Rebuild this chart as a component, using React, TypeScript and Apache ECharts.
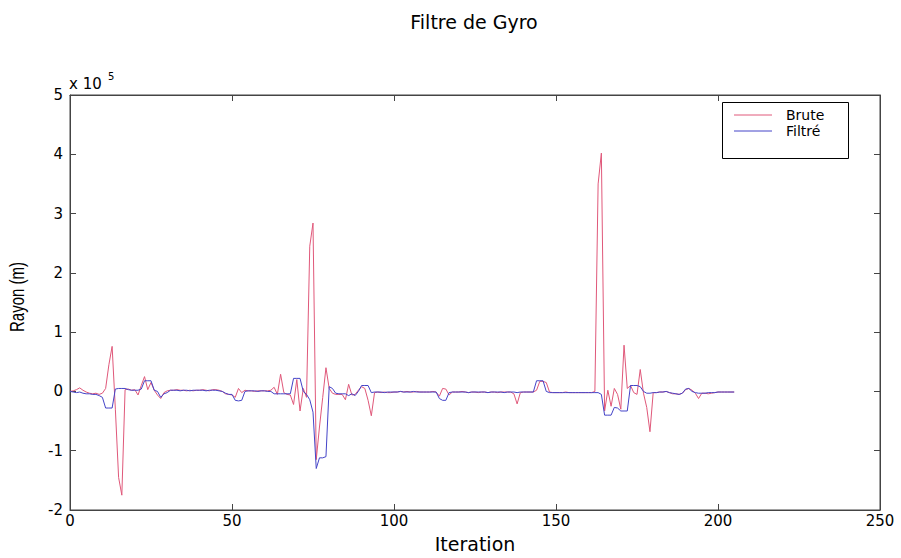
import React, { useEffect, useRef } from "react";
import * as echarts from "echarts";

// Axis ticks (y values are in units of 10^5 m, as the "x 10^5" factor shows)
const xTicks = [0, 50, 100, 150, 200, 250];
const yTicks = [-2, -1, 0, 1, 2, 3, 4, 5];
const seriesNames = ["Brute", "Filtré"];

// Raw radius ("Brute"), one value per iteration 0..205, x 10^5 m
const brute = [
  0, 0.01, 0.03, 0.06, 0.02, -0.01, -0.03, -0.04, -0.03, -0.05,
  -0.03, 0.05, 0.45, 0.76, -0.3, -1.45, -1.75, 0.03, 0.04, 0.02,
  0.03, -0.06, 0.1, 0.25, 0.03, 0.15, 0.02, -0.06, -0.12, -0.02,
  0.01, 0.02, 0.02, 0.03, 0.02, 0.02, 0.01, 0.02, 0.01, 0.02,
  0.02, 0.03, 0.02, 0.01, 0.03, 0.03, 0.02, 0.0, -0.04, -0.05,
  -0.06, -0.1, 0.05, -0.02, 0.02, 0.01, 0.01, 0.0, 0.01, 0.01,
  0.01, 0.01, 0.02, 0.07, -0.05, 0.29, -0.02, -0.05, -0.06, -0.22,
  0.2, -0.33, 0.05, -0.1, 2.45, 2.84, -1.15, -0.6, -0.1, 0.4,
  0.05, -0.03, -0.05, -0.05, -0.05, -0.14, 0.12, -0.06, -0.05, 0.02,
  0.08, 0.05, -0.15, -0.41, -0.02, -0.01, -0.02, -0.01, -0.02, -0.02,
  -0.01, -0.01, 0.0, -0.01, 0.0, -0.01, -0.01, 0.0, -0.01, -0.01,
  -0.01, -0.01, 0.0, -0.01, -0.08, 0.05, 0.04, -0.06, -0.01, -0.01,
  -0.01, 0.0, -0.01, -0.02, -0.01, -0.01, -0.02, -0.01, -0.01, -0.02,
  -0.01, -0.01, -0.02, -0.01, -0.01, -0.01, -0.01, -0.04, -0.21, -0.02,
  -0.01, -0.01, -0.01, -0.01, 0.02, 0.17, 0.17, 0.15, -0.01, -0.02,
  -0.02, -0.02, -0.02, -0.01, -0.02, -0.02, -0.02, -0.02, -0.02, -0.02,
  -0.02, -0.02, 0.0, 3.5, 4.02, -0.33, 0.02, -0.25, 0.05, -0.05,
  -0.3, 0.78, 0.05, 0.1, -0.02, -0.05, 0.37, -0.03, -0.27, -0.68,
  -0.02, -0.02, -0.01, -0.01, 0.0, -0.02, -0.04, -0.04, -0.05, -0.03,
  0.03, 0.05, 0.02, -0.03, -0.12, -0.03, -0.03, -0.04, -0.03, -0.02,
  -0.01, -0.01, -0.01, -0.01, -0.01, -0.01,
];

// Filtered radius ("Filtré"), one value per iteration 0..205, x 10^5 m
const filtre = [
  0, -0.01, -0.02, -0.01, -0.03, -0.04, -0.04, -0.05, -0.05, -0.07,
  -0.1, -0.28, -0.28, -0.28, 0.04, 0.05, 0.05, 0.05, 0.03, 0.02,
  0.02, 0.02, 0.04, 0.18, 0.18, 0.18, 0.02, 0.0, -0.1, -0.04,
  -0.02, 0.02, 0.02, 0.02, 0.01, 0.02, 0.02, 0.01, 0.02, 0.02,
  0.02, 0.02, 0.01, 0.02, 0.02, 0.02, 0.01, 0.0, -0.03, -0.05,
  -0.05, -0.15, -0.16, -0.15, 0.0, 0.01, 0.01, 0.01, 0.0, 0.01,
  0.01, 0.0, 0.0, -0.04, -0.04, -0.04, -0.04, -0.04, -0.04, 0.22,
  0.22, 0.22, 0.0, -0.05, -0.14, -0.35, -1.3, -1.12, -1.12, -1.1,
  0.08, 0.05, -0.03, -0.04, -0.04, -0.04, -0.07, -0.04, -0.07, 0.0,
  0.1, 0.1, 0.1, -0.02, -0.01, -0.01, -0.01, -0.02, -0.01, -0.01,
  -0.01, -0.01, 0.0, -0.01, -0.01, -0.01, 0.0, -0.01, -0.01, -0.01,
  -0.01, -0.01, -0.01, -0.01, -0.12, -0.15, -0.15, -0.02, -0.01, -0.01,
  -0.01, -0.01, -0.01, -0.02, -0.01, -0.01, -0.01, -0.01, -0.01, -0.02,
  -0.01, -0.01, -0.01, -0.01, -0.02, -0.01, -0.01, -0.01, -0.02, -0.01,
  -0.01, -0.01, -0.01, -0.01, 0.18, 0.18, 0.18, 0.0, -0.02, -0.02,
  -0.02, -0.02, -0.02, -0.02, -0.02, -0.02, -0.02, -0.02, -0.02, -0.02,
  -0.02, -0.02, -0.02, -0.02, -0.05, -0.4, -0.4, -0.4, -0.27, -0.28,
  -0.33, -0.33, -0.33, 0.1, 0.1, 0.1, 0.08, 0.0, -0.03, -0.03,
  -0.02, -0.02, -0.01, -0.01, 0.0, -0.02, -0.03, -0.04, -0.05, -0.03,
  0.04, 0.05, 0.0, -0.02, -0.03, -0.03, -0.03, -0.02, -0.02, -0.02,
  -0.01, -0.01, -0.01, -0.01, -0.01, -0.01,
];

const iterations = brute.map((_, i) => i);

const RED = "#e0587a";
const BLUE = "#4444c8";
const AXIS = "#444";
const FONT = "DejaVu Sans";

export default function App() {
  const ref = useRef<HTMLDivElement>(null);

  useEffect(() => {
    if (!ref.current) return;
    const chart = echarts.init(ref.current, null, { renderer: "svg" });

    const axisLine = { show: true, onZero: false, lineStyle: { color: AXIS, width: 1 } };
    const axisTick = { show: true, inside: true, length: 6, lineStyle: { color: AXIS, width: 1 } };
    const labelStyle = { fontFamily: FONT, fontSize: 15, color: "#000" };

    const xBase = {
      type: "value",
      min: xTicks[0],
      max: xTicks[xTicks.length - 1],
      interval: xTicks[1] - xTicks[0],
      splitLine: { show: false },
      axisLine,
      axisTick,
    };
    const yBase = {
      type: "value",
      min: yTicks[0],
      max: yTicks[yTicks.length - 1],
      interval: yTicks[1] - yTicks[0],
      splitLine: { show: false },
      axisLine,
      axisTick,
    };

    chart.setOption({
      animation: false,
      backgroundColor: "#ffffff",
      grid: {
        left: 70,
        right: 21,
        top: 95,
        bottom: 45,
        show: true,
        borderColor: AXIS,
        borderWidth: 1,
        backgroundColor: "transparent",
      },
      xAxis: [
        {
          ...xBase,
          position: "bottom",
          name: "Iteration",
          nameLocation: "middle",
          nameGap: 24,
          nameTextStyle: { fontFamily: FONT, fontSize: 19, color: "#000" },
          axisLabel: { ...labelStyle, margin: 3 },
        },
        {
          ...xBase,
          position: "top",
          axisLabel: { show: false },
        },
      ],
      yAxis: [
        {
          ...yBase,
          position: "left",
          axisLabel: { ...labelStyle, margin: 7 },
        },
        {
          ...yBase,
          position: "right",
          axisLabel: { show: false },
        },
      ],
      series: [
        {
          type: "line",
          name: seriesNames[0],
          data: iterations.map((it, i) => [it, brute[i]]),
          showSymbol: false,
          symbol: "none",
          lineStyle: { color: RED, width: 1 },
          itemStyle: { color: RED },
          z: 2,
        },
        {
          type: "line",
          name: seriesNames[1],
          data: iterations.map((it, i) => [it, filtre[i]]),
          showSymbol: false,
          symbol: "none",
          lineStyle: { color: BLUE, width: 1 },
          itemStyle: { color: BLUE },
          z: 3,
        },
      ],
      graphic: [
        {
          type: "text",
          x: 474,
          y: 22,
          style: {
            text: "Filtre de Gyro",
            align: "center",
            verticalAlign: "middle",
            fontFamily: FONT,
            fontSize: 19,
            fill: "#000",
          },
        },
        {
          type: "text",
          x: 17.5,
          y: 297,
          rotation: Math.PI / 2,
          scaleY: 1.35,
          style: {
            text: "Rayon (m)",
            align: "center",
            verticalAlign: "middle",
            fontFamily: "Liberation Sans",
            fontSize: 15,
            fill: "#000",
          },
        },
        {
          type: "text",
          x: 69,
          y: 84,
          style: {
            text: "x 10",
            align: "left",
            verticalAlign: "middle",
            fontFamily: FONT,
            fontSize: 15,
            fill: "#000",
          },
        },
        {
          type: "text",
          x: 108,
          y: 76,
          style: {
            text: "5",
            align: "left",
            verticalAlign: "middle",
            fontFamily: FONT,
            fontSize: 10,
            fill: "#000",
          },
        },
        {
          type: "rect",
          z: 10,
          shape: { x: 722.5, y: 102.5, width: 126, height: 56 },
          style: { fill: "#fff", stroke: "#000", lineWidth: 1 },
        },
        {
          type: "line",
          z: 11,
          shape: { x1: 734, y1: 115, x2: 772, y2: 115 },
          style: { stroke: RED, lineWidth: 1 },
        },
        {
          type: "line",
          z: 11,
          shape: { x1: 734, y1: 131, x2: 772, y2: 131 },
          style: { stroke: BLUE, lineWidth: 1 },
        },
        {
          type: "text",
          z: 11,
          x: 786,
          y: 115,
          style: {
            text: seriesNames[0],
            align: "left",
            verticalAlign: "middle",
            fontFamily: FONT,
            fontSize: 14,
            fill: "#000",
          },
        },
        {
          type: "text",
          z: 11,
          x: 786,
          y: 131,
          style: {
            text: seriesNames[1],
            align: "left",
            verticalAlign: "middle",
            fontFamily: FONT,
            fontSize: 14,
            fill: "#000",
          },
        },
      ],
    });

    return () => chart.dispose();
  }, []);

  return (
    <div
      ref={ref}
      style={{ position: "fixed", left: 0, top: 0, width: 901, height: 558, background: "#fff" }}
    />
  );
}
